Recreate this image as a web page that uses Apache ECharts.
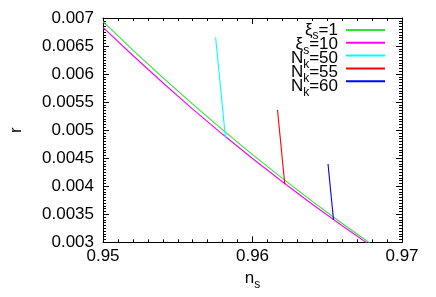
<!DOCTYPE html>
<html><head><meta charset="utf-8">
<script src="https://cdn.jsdelivr.net/npm/echarts@6/dist/echarts.min.js"></script>
<style>html,body{margin:0;padding:0;background:#fff}#c{width:436px;height:297px}</style>
</head><body><div id="c"></div>
<script>
// ---- data ----
const nsGrid = [0.950, 0.952, 0.954, 0.956, 0.958, 0.960, 0.962, 0.964, 0.966, 0.968];
const rXi1   = [0.006934, 0.006428, 0.005938, 0.005464, 0.005006, 0.004564, 0.004139, 0.003729, 0.003336, 0.002958];
const rXi10  = [0.006834, 0.006331, 0.005845, 0.005375, 0.004926, 0.004494, 0.004079, 0.003679, 0.003296, 0.002925];
const nk50Ns = [0.957532, 0.958189];
const nk50R  = [0.006656, 0.004872];
const nk55Ns = [0.961673, 0.962159];
const nk55R  = [0.005359, 0.004034];
const nk60Ns = [0.965051, 0.965419];
const nk60R  = [0.004396, 0.003398];
const xTicks = [0.95, 0.96, 0.97];
const yTicks = [0.003, 0.0035, 0.004, 0.0045, 0.005, 0.0055, 0.006, 0.0065, 0.007];
const seriesNames = ['xi1', 'xi10', 'nk50', 'nk55', 'nk60'];
const legendLabels = {
  xi1:  '{m|ξ}{s|s}{m|=1}',
  xi10: '{m|ξ}{s|s}{m|=10}',
  nk50: '{m|N}{s|k}{m|=50}',
  nk55: '{m|N}{s|k}{m|=55}',
  nk60: '{m|N}{s|k}{m|=60}'
};
const colors = ['#2fe62f', '#ff00ff', '#00ffff', '#ff0000', '#0000ff'];

const FONT = "'Liberation Sans', Arial, sans-serif";
const pairs = (xs, ys) => xs.map((x, i) => [x, ys[i]]);
const seriesData = [pairs(nsGrid, rXi1), pairs(nsGrid, rXi10), pairs(nk50Ns, nk50R), pairs(nk55Ns, nk55R), pairs(nk60Ns, nk60R)];

const LH = 24;
const rich = {
  m: {fontSize: 17, fontFamily: FONT, color: '#000', lineHeight: LH},
  s: {fontSize: 12, fontFamily: FONT, color: '#000', lineHeight: 2, verticalAlign: 'bottom'}
};

const tickStyle = {color: '#000', width: 1};
function xAxis(pos, showLabel) {
  return {
    type: 'value', position: pos, min: xTicks[0], max: xTicks[xTicks.length - 1], interval: 0.01,
    axisLine: {show: true, onZero: false, lineStyle: {color: '#000', width: 1}},
    axisTick: {show: true, inside: true, length: 6, lineStyle: tickStyle},
    minorTick: {show: true, splitNumber: 10, length: 3, lineStyle: tickStyle},
    splitLine: {show: false},
    axisLabel: {show: showLabel, fontSize: 17, fontFamily: FONT, color: '#000', margin: 6,
      formatter: v => v.toFixed(2)},
    name: showLabel ? '{m|n}{s|s}' : '', nameLocation: 'middle', nameGap: 23,
    nameTextStyle: {rich: rich}
  };
}
function yAxis(pos, showLabel) {
  return {
    type: 'value', position: pos, min: yTicks[0], max: yTicks[yTicks.length - 1], interval: 0.0005,
    axisLine: {show: true, onZero: false, lineStyle: {color: '#000', width: 1}},
    axisTick: {show: true, inside: true, length: 6, lineStyle: tickStyle},
    minorTick: {show: true, splitNumber: 10, length: 3, lineStyle: tickStyle},
    splitLine: {show: false},
    axisLabel: {show: showLabel, fontSize: 17, fontFamily: FONT, color: '#000', margin: 9,
      formatter: v => v.toFixed(4).replace(/0+$/, '')},
    name: showLabel ? 'r' : '', nameLocation: 'middle', nameGap: 78, nameRotate: 90,
    nameTextStyle: {fontSize: 17, fontFamily: FONT, color: '#000'}
  };
}

// legend layout (key box at the top right)
const rowCenters = [30, 44.3, 58.5, 72.5, 86.7];
const keyTextRight = 338;
const legendTexts = seriesNames.map((n, i) => ({
  type: 'text', x: keyTextRight, y: rowCenters[i] - LH / 2, silent: true,
  style: {text: legendLabels[n], rich: rich, align: 'right', verticalAlign: 'top',
          fontSize: 17, fontFamily: FONT, fill: '#000'}
}));

const chart = echarts.init(document.getElementById('c'), null, {renderer: 'canvas'});
chart.setOption({
  animation: false,
  backgroundColor: '#fff',
  grid: {left: 97.7, right: 34, top: 18, bottom: 54.7, containLabel: false},
  xAxis: [xAxis('bottom', true), xAxis('top', false)],
  yAxis: [yAxis('left', true), yAxis('right', false)],
  legend: {
    orient: 'vertical', align: 'right', right: 50, top: rowCenters[0] - 7, padding: 0,
    itemWidth: 39, itemHeight: 14, itemGap: 0.2,
    itemStyle: {opacity: 0},
    data: seriesNames,
    formatter: () => '',
    textStyle: {fontSize: 1}
  },
  graphic: legendTexts,
  series: seriesNames.map((n, i) => ({
    name: n, type: 'line', data: seriesData[i], xAxisIndex: 0, yAxisIndex: 0,
    showSymbol: false, symbol: 'none', smooth: false, clip: true,
    lineStyle: {color: colors[i], width: 1.1}, itemStyle: {color: colors[i]}
  }))
});
</script></body></html>
